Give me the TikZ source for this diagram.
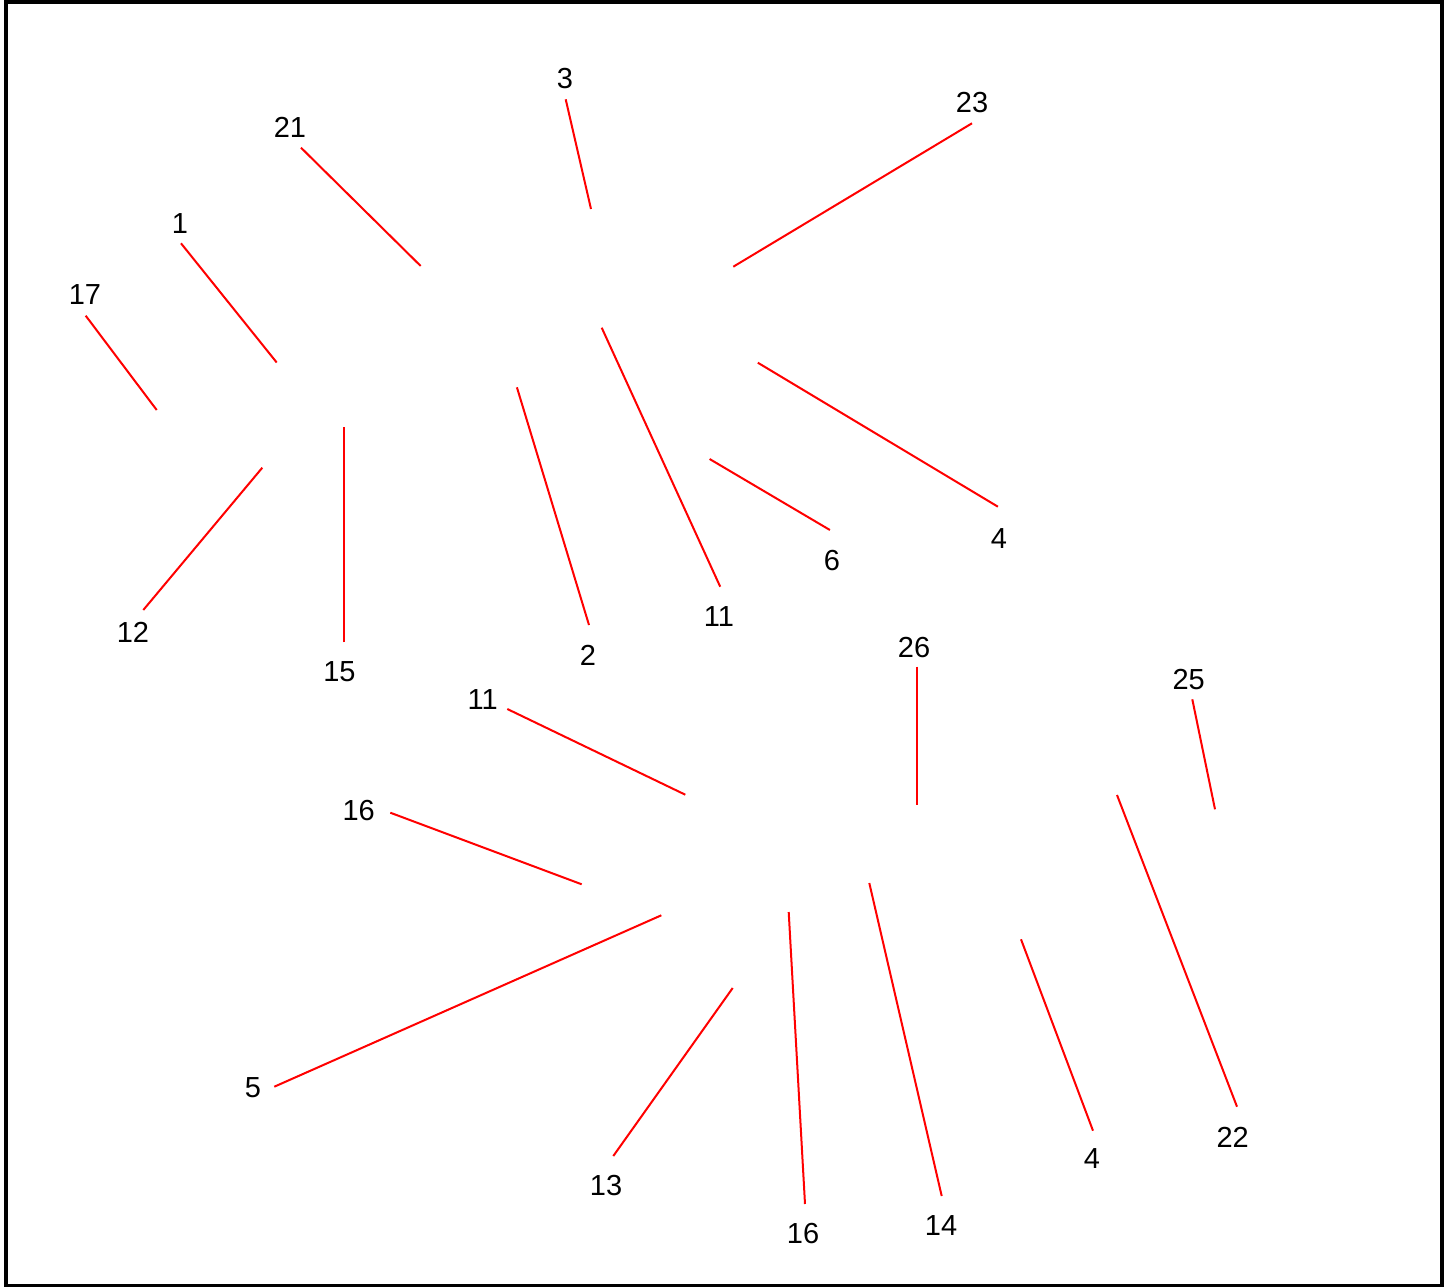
\documentclass[tikz,border=0pt]{standalone}
\usepackage{fontspec}
\setmainfont{Liberation Sans}
\begin{document}
\begin{tikzpicture}[x=1pt,y=-1pt,
  lbl/.style={inner sep=0pt, font=\fontsize{29}{34}\selectfont},
  ray/.style={draw=red, line width=2pt}]
\useasboundingbox (0,0) rectangle (1449,1287);
\draw[line width=4pt, black] (6,1.8) rectangle (1442,1286);
% labels
\node[lbl] (n17) at (85,295) {17};
\node[lbl] (n1) at (180,224) {1};
\node[lbl] (n21) at (290,127) {21};
\node[lbl] (n3) at (565,79) {3};
\node[lbl] (n23) at (972,103) {23};
\node[lbl] (n12) at (133,632) {12};
\node[lbl] (n15) at (339.5,672) {15};
\node[lbl] (n2) at (588,655.5) {2};
\node[lbl] (n11a) at (719,617) {11};
\node[lbl] (n6) at (832,561) {6};
\node[lbl] (n4a) at (999,539) {4};
\node[lbl] (n26) at (914,647.5) {26};
\node[lbl] (n25) at (1188.7,680) {25};
\node[lbl] (n11b) at (482.7,700) {11};
\node[lbl] (n16a) at (358.7,810.5) {16};
\node[lbl] (n5) at (253,1088) {5};
\node[lbl] (n13) at (606,1185.5) {13};
\node[lbl] (n16b) at (803,1234) {16};
\node[lbl] (n14) at (941,1225.5) {14};
\node[lbl] (n4b) at (1092,1159) {4};
\node[lbl] (n22) at (1232.7,1137) {22};
% line endpoints
\coordinate (a17) at (85.7,315.7);   \coordinate (b17) at (156.7,410);
\coordinate (a1) at (181,243.3);     \coordinate (b1) at (276.7,362.5);
\coordinate (a21) at (301,147.7);    \coordinate (b21) at (420.7,266);
\coordinate (a3) at (565.7,99.3);    \coordinate (b3) at (591,209);
\coordinate (a23) at (972,123.3);    \coordinate (b23) at (733.3,266.7);
\coordinate (a12) at (143.3,610);    \coordinate (b12) at (262.3,467.7);
\coordinate (a15) at (344,642.3);    \coordinate (b15) at (344,426.7);
\coordinate (a2) at (589,625);       \coordinate (b2) at (516.9,387.3);
\coordinate (a11a) at (720.2,586.7); \coordinate (b11a) at (601.7,327.7);
\coordinate (a6) at (829.9,530);     \coordinate (b6) at (709.6,459);
\coordinate (a4a) at (997.9,506.7);  \coordinate (b4a) at (757.8,362.7);
\coordinate (a26) at (917.3,666.5);  \coordinate (b26) at (917.3,804.5);
\coordinate (a25) at (1192.3,699.3); \coordinate (b25) at (1215,809.3);
\coordinate (a11b) at (507.3,709);   \coordinate (b11b) at (685.3,794.7);
\coordinate (a16a) at (390.3,812.7); \coordinate (b16a) at (581.7,884.3);
\coordinate (a5) at (274.3,1086.7);  \coordinate (b5) at (661.3,915.3);
\coordinate (a13) at (613.3,1156);   \coordinate (b13) at (732.7,988);
\coordinate (a16b) at (805,1204);    \coordinate (b16b) at (788.7,912);
\coordinate (a14) at (941.7,1196);   \coordinate (b14) at (869.3,883);
\coordinate (a4b) at (1093,1130.7);  \coordinate (b4b) at (1021,939.3);
\coordinate (a22) at (1237,1106.7);  \coordinate (b22) at (1117,795);
\foreach \k in {17,1,21,3,23,12,15,2,11a,6,4a,26,25,11b,16a,5,13,16b,14,4b,22}
  \draw[ray] (a\k) -- (b\k);
\end{tikzpicture}
\end{document}
